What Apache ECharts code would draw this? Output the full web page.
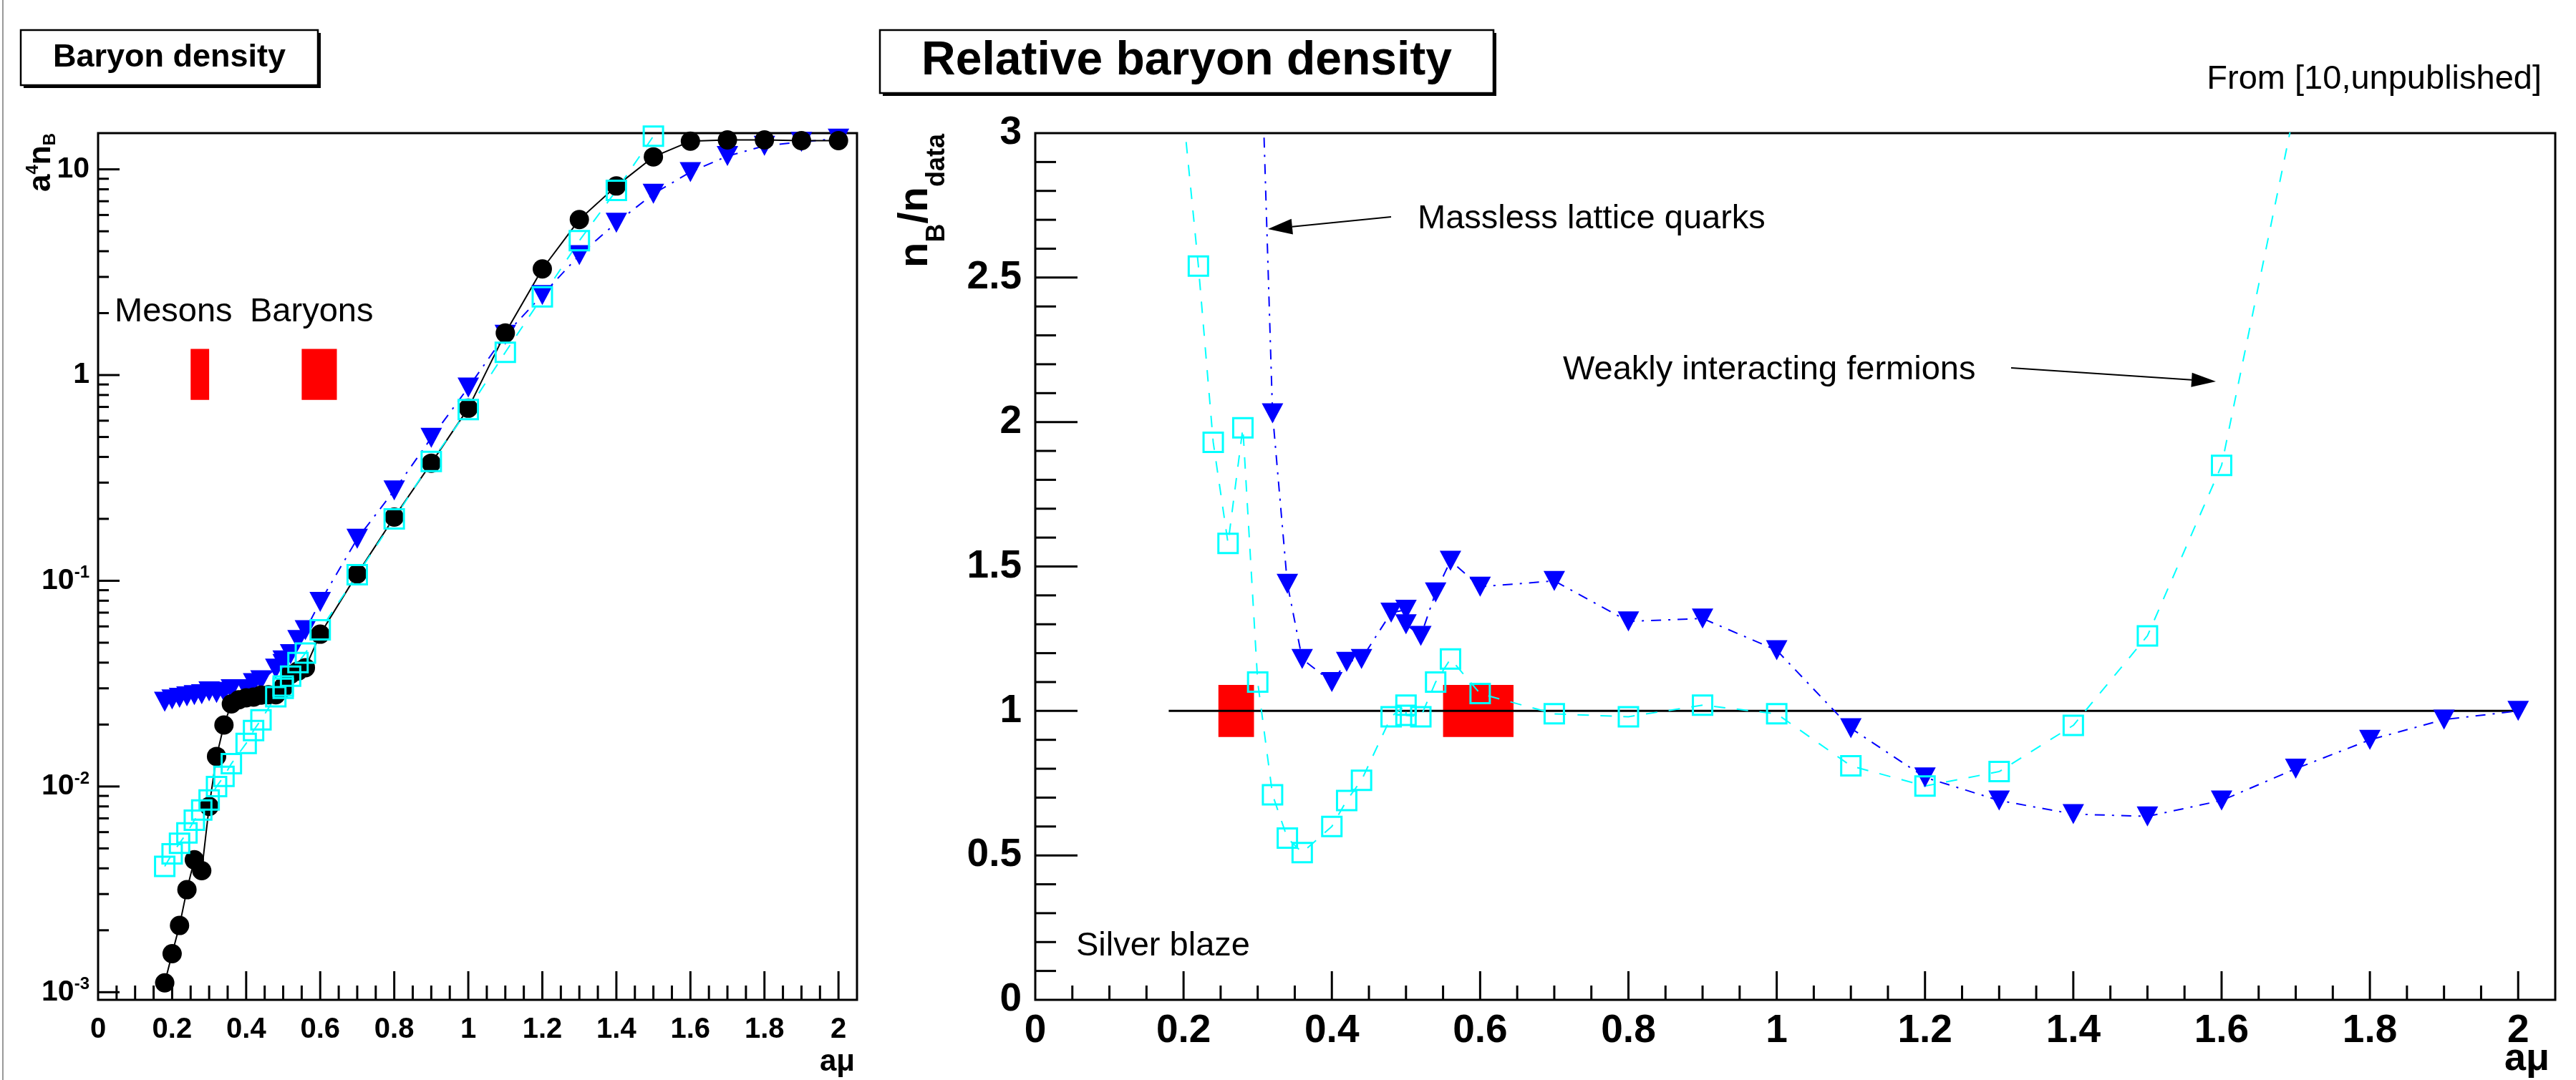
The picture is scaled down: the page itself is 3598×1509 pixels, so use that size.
<!DOCTYPE html>
<html><head><meta charset="utf-8">
<script src="https://cdn.jsdelivr.net/npm/echarts@6/dist/echarts.min.js"></script>
<style>html,body{margin:0;padding:0;background:#fff}#c{width:3598px;height:1509px}</style>
</head><body><div id="c"></div>
<script>
// ---------------- DATA ----------------
// Left panel: a^4 n_B (log scale)
const dataX  = [0.18,0.20,0.22,0.24,0.26,0.28,0.30,0.32,0.34,0.36,0.38,0.40,0.42,0.44,0.46,0.48,0.50,0.50,0.52,0.54,0.56,0.60,0.70,0.80,0.90,1.0,1.1,1.2,1.3,1.4,1.5,1.6,1.7,1.8,1.9,2.0];
const dataY  = [0.00111,0.00154,0.00211,0.00315,0.0044,0.0039,0.0080,0.0140,0.0199,0.0252,0.0264,0.0270,0.0272,0.0278,0.0279,0.0279,0.0301,0.0305,0.0351,0.0364,0.0378,0.0550,0.108,0.204,0.373,0.69,1.6,3.28,5.7,8.3,11.5,13.7,13.9,13.9,13.8,13.8];
const weakX  = [0.18,0.20,0.22,0.24,0.26,0.28,0.30,0.32,0.34,0.36,0.40,0.42,0.44,0.48,0.50,0.50,0.52,0.54,0.56,0.60,0.70,0.80,0.90,1.0,1.1,1.2,1.3,1.4,1.5,1.6];
const weakY  = [0.00409,0.00471,0.0053,0.00595,0.00686,0.00769,0.0086,0.0100,0.0112,0.0129,0.0162,0.0187,0.0211,0.0273,0.0308,0.0300,0.0344,0.0400,0.0445,0.0577,0.107,0.200,0.380,0.68,1.29,2.40,4.50,7.9,14.5,25.6];
const latX   = [0.18,0.20,0.22,0.24,0.26,0.28,0.30,0.32,0.34,0.36,0.40,0.42,0.44,0.48,0.50,0.50,0.52,0.54,0.56,0.60,0.70,0.80,0.90,1.0,1.1,1.2,1.3,1.4,1.5,1.6,1.7,1.8,1.9,2.0];
const latY   = [0.0258,0.0265,0.0270,0.0274,0.0278,0.0281,0.0290,0.0285,0.0288,0.0297,0.0297,0.0318,0.0328,0.0374,0.0410,0.0394,0.0440,0.0515,0.0575,0.0790,0.160,0.275,0.495,0.87,1.57,2.45,3.83,5.5,7.6,9.7,11.6,13.0,13.6,14.1];

// Right panel: n_B / n_data
const ratioWeakX = [0.18,0.20,0.22,0.24,0.26,0.28,0.30,0.32,0.34,0.36,0.40,0.42,0.44,0.48,0.50,0.50,0.52,0.54,0.56,0.60,0.70,0.80,0.90,1.0,1.1,1.2,1.3,1.4,1.5,1.6,1.7];
const ratioWeakY = [3.68,3.06,2.54,1.93,1.58,1.98,1.10,0.71,0.56,0.51,0.60,0.69,0.76,0.98,1.02,0.985,0.98,1.10,1.18,1.06,0.99,0.98,1.02,0.99,0.81,0.74,0.79,0.95,1.26,1.85,3.1];
const ratioLatX  = [0.28,0.30,0.32,0.34,0.36,0.40,0.42,0.44,0.48,0.50,0.50,0.52,0.54,0.56,0.60,0.70,0.80,0.90,1.0,1.1,1.2,1.3,1.4,1.5,1.6,1.7,1.8,1.9,2.0];
const ratioLatY  = [7.2,3.7,2.03,1.44,1.18,1.10,1.17,1.18,1.34,1.35,1.30,1.26,1.41,1.52,1.43,1.45,1.31,1.32,1.21,0.94,0.77,0.69,0.643,0.635,0.69,0.80,0.90,0.97,1.0];
const unityX = [0.18, 2.0];
const unityY = [1, 1];

// Red boxes [x0, x1, y0, y1] (mesons, baryons)
const boxesLeft  = [[0.25,0.30,0.758,1.34],[0.55,0.645,0.758,1.34]];
const boxesRight = [[0.247,0.295,0.91,1.09],[0.55,0.645,0.91,1.09]];

// Tick values
const leftXMajor  = [0.4,0.6,0.8,1.0,1.2,1.4,1.6,1.8,2.0];
const leftXMinor  = [0.05,0.1,0.15,0.2,0.25,0.3,0.35,0.45,0.5,0.55,0.65,0.7,0.75,0.85,0.9,0.95,1.05,1.1,1.15,1.25,1.3,1.35,1.45,1.5,1.55,1.65,1.7,1.75,1.85,1.9,1.95];
const rightXMajor = [0.2,0.4,0.6,0.8,1.0,1.2,1.4,1.6,1.8,2.0];
const rightXMinor = [0.05,0.1,0.15,0.25,0.3,0.35,0.45,0.5,0.55,0.65,0.7,0.75,0.85,0.9,0.95,1.05,1.1,1.15,1.25,1.3,1.35,1.45,1.5,1.55,1.65,1.7,1.75,1.85,1.9,1.95];
const logYMajor   = [0.001,0.01,0.1,1,10];
const logYMinor   = [0.002,0.003,0.004,0.005,0.006,0.007,0.008,0.009,0.02,0.03,0.04,0.05,0.06,0.07,0.08,0.09,0.2,0.3,0.4,0.5,0.6,0.7,0.8,0.9,2,3,4,5,6,7,8,9];
const linYMajor   = [0.5,1.0,1.5,2.0,2.5];
const linYMinor   = [0.1,0.2,0.3,0.4,0.6,0.7,0.8,0.9,1.1,1.2,1.3,1.4,1.6,1.7,1.8,1.9,2.1,2.2,2.3,2.4,2.6,2.7,2.8,2.9];

// ---------------- CHART ----------------
const FONT = '"Liberation Sans", Arial, Helvetica, sans-serif';
const pairs = (xs, ys) => xs.map((x, i) => [x, ys[i]]);

function tickData(xMaj, xMin, yMaj, yMin, lens) {
  return [].concat(
    xMaj.map(v => [v, 1, 0, lens[0]]),
    xMin.map(v => [v, 1, 0, lens[1]]),
    yMaj.map(v => [1, v, 1, lens[2]]),
    yMin.map(v => [1, v, 1, lens[3]])
  );
}
function tickRender(params, api) {
  const cs = params.coordSys;
  const p = api.coord([api.value(0), api.value(1)]);
  const len = api.value(3);
  if (api.value(2) === 0) {
    const yb = cs.y + cs.height;
    return {type: 'line', shape: {x1: p[0], y1: yb, x2: p[0], y2: yb - len}, style: {stroke: '#000', lineWidth: 3}};
  }
  return {type: 'line', shape: {x1: cs.x, y1: p[1], x2: cs.x + len, y2: p[1]}, style: {stroke: '#000', lineWidth: 3}};
}
function boxRender(params, api) {
  const p0 = api.coord([api.value(0), api.value(3)]);
  const p1 = api.coord([api.value(1), api.value(2)]);
  return {type: 'rect', shape: {x: p0[0], y: p0[1], width: p1[0] - p0[0], height: p1[1] - p0[1]}, style: {fill: '#ff0000'}};
}
const xFmt = v => {
  const k = v / 0.2;
  if (Math.abs(k - Math.round(k)) > 1e-6) return '';
  return String(Math.round(v * 10) / 10);
};
const logFmt = v => {
  const l = Math.log10(v), e = Math.round(l);
  if (Math.abs(l - e) > 1e-3) return '';
  if (e === 0) return '{b|1}';
  if (e === 1) return '{b|10}';
  return '{b|10}{s|' + e + '}';
};

function arrow(x1, y1, x2, y2, hl, hw) {
  const dx = x2 - x1, dy = y2 - y1, L = Math.hypot(dx, dy);
  const ux = dx / L, uy = dy / L, bx = x2 - ux * hl, by = y2 - uy * hl;
  return [
    {type: 'line', shape: {x1: x1, y1: y1, x2: bx, y2: by}, style: {stroke: '#000', lineWidth: 2}},
    {type: 'polygon', shape: {points: [[x2, y2], [bx - uy * hw / 2, by + ux * hw / 2], [bx + uy * hw / 2, by - ux * hw / 2]]}, style: {fill: '#000'}}
  ];
}
function txt(x, y, text, size, opts) {
  opts = opts || {};
  return {type: 'text', x: x, y: y, rotation: opts.rot || 0, z: 100,
    style: {text: text, font: (opts.bold ? 'bold ' : '') + size + 'px ' + FONT, fill: '#000',
      align: opts.align || 'left', textAlign: opts.align || 'left',
      verticalAlign: 'middle', textVerticalAlign: 'middle', rich: opts.rich}};
}
function titleBox(x, y, w, h, text, size) {
  return [
    {type: 'rect', shape: {x: x + 4, y: y + 4, width: w, height: h}, style: {fill: '#000'}, z: 90},
    {type: 'rect', shape: {x: x, y: y, width: w, height: h}, style: {fill: '#fff', stroke: '#000', lineWidth: 2.5}, z: 91},
    txt(x + w / 2, y + h / 2, text, size, {bold: true, align: 'center'})
  ];
}

const axisLbl = (size, margin, extra) => Object.assign({
  color: '#000', fontFamily: FONT, fontWeight: 'bold', fontSize: size, margin: margin
}, extra || {});
const noLines = {axisLine: {show: false}, axisTick: {show: false}, splitLine: {show: false}};

const option = {
  animation: false,
  backgroundColor: '#fff',
  grid: [
    {left: 137, top: 186, width: 1060, height: 1211, show: true, borderColor: '#000', borderWidth: 3, backgroundColor: 'transparent'},
    {left: 1446, top: 186, width: 2123, height: 1211, show: true, borderColor: '#000', borderWidth: 3, backgroundColor: 'transparent'}
  ],
  xAxis: [
    Object.assign({type: 'value', gridIndex: 0, min: 0, max: 2.05, interval: 0.2,
      axisLabel: axisLbl(40, 22, {formatter: xFmt})}, noLines),
    Object.assign({type: 'value', gridIndex: 1, min: 0, max: 2.05, interval: 0.2,
      axisLabel: axisLbl(55, 16, {formatter: xFmt})}, noLines)
  ],
  yAxis: [
    Object.assign({type: 'log', logBase: 10, gridIndex: 0, min: 0.000918, max: 15,
      axisLabel: axisLbl(41, 12, {formatter: logFmt, rich: {
        b: {fontFamily: FONT, fontWeight: 'bold', fontSize: 41, color: '#000', lineHeight: 46},
        s: {fontFamily: FONT, fontWeight: 'bold', fontSize: 24, color: '#000', lineHeight: 24, verticalAlign: 'top'}
      }})}, noLines),
    Object.assign({type: 'value', gridIndex: 1, min: 0, max: 3, interval: 0.5,
      axisLabel: axisLbl(55, 19, {formatter: v => String(Math.round(v * 10) / 10)})}, noLines)
  ],
  series: [
    // ---- left panel ----
    {type: 'custom', xAxisIndex: 0, yAxisIndex: 0, renderItem: boxRender, data: boxesLeft, encode: {x: [0, 1], y: [2, 3]}, silent: true},
    {type: 'line', xAxisIndex: 0, yAxisIndex: 0, data: pairs(latX, latY), symbol: 'triangle', symbolRotate: 180, symbolSize: [30, 28],
      itemStyle: {color: '#0000ff'}, lineStyle: {color: '#0000ff', width: 2, type: [14, 10, 3, 10]}, silent: true},
    {type: 'line', xAxisIndex: 0, yAxisIndex: 0, data: pairs(dataX, dataY), symbol: 'circle', symbolSize: 27,
      itemStyle: {color: '#000'}, lineStyle: {color: '#000', width: 2}, silent: true},
    {type: 'line', xAxisIndex: 0, yAxisIndex: 0, data: pairs(weakX, weakY), symbol: 'rect', symbolSize: 27,
      itemStyle: {color: 'rgba(0,0,0,0)', borderColor: '#00ffff', borderWidth: 3}, lineStyle: {color: '#00ffff', width: 2, type: [16, 16]}, silent: true},
    {type: 'custom', xAxisIndex: 0, yAxisIndex: 0, renderItem: tickRender, z: 5, silent: true,
      data: tickData(leftXMajor, leftXMinor, logYMajor, logYMinor, [40, 20, 30, 15]), encode: {x: 0, y: 1}},
    // ---- right panel ----
    {type: 'custom', xAxisIndex: 1, yAxisIndex: 1, renderItem: boxRender, data: boxesRight, encode: {x: [0, 1], y: [2, 3]}, silent: true},
    {type: 'line', xAxisIndex: 1, yAxisIndex: 1, data: pairs(unityX, unityY), symbol: 'none',
      lineStyle: {color: '#000', width: 3}, silent: true},
    {type: 'line', xAxisIndex: 1, yAxisIndex: 1, data: pairs(ratioLatX, ratioLatY), symbol: 'triangle', symbolRotate: 180, symbolSize: [30, 28],
      itemStyle: {color: '#0000ff'}, lineStyle: {color: '#0000ff', width: 2, type: [14, 10, 3, 10]}, silent: true},
    {type: 'line', xAxisIndex: 1, yAxisIndex: 1, data: pairs(ratioWeakX, ratioWeakY), symbol: 'rect', symbolSize: 27,
      itemStyle: {color: 'rgba(0,0,0,0)', borderColor: '#00ffff', borderWidth: 3}, lineStyle: {color: '#00ffff', width: 2, type: [16, 16]}, silent: true},
    {type: 'custom', xAxisIndex: 1, yAxisIndex: 1, renderItem: tickRender, z: 5, silent: true,
      data: tickData(rightXMajor, rightXMinor, linYMajor, linYMinor, [40, 20, 59, 29]), encode: {x: 0, y: 1}}
  ],
  graphic: [].concat(
    [{type: 'line', shape: {x1: 4, y1: 0, x2: 4, y2: 1509}, style: {stroke: '#777', lineWidth: 1.5}}],
    titleBox(29, 42, 415, 77, 'Baryon density', 45),
    titleBox(1229, 42, 857, 88, 'Relative baryon density', 66),
    [
      txt(3550, 111, 'From [10,unpublished]', 47, {align: 'right'}),
      txt(160, 436, 'Mesons', 47),
      txt(349, 436, 'Baryons', 47),
      txt(1980, 306, 'Massless lattice quarks', 47),
      txt(2183, 517, 'Weakly interacting fermions', 47),
      txt(1503, 1322, 'Silver blaze', 47),
      txt(1194, 1484, 'aμ', 42, {bold: true, align: 'right'}),
      txt(3561, 1480, 'aμ', 54, {bold: true, align: 'right'}),
      txt(58, 186, '{m|a}{p|4}{m|n}{q|B}', 44, {align: 'right', rot: Math.PI / 2, rich: {
        m: {fontFamily: FONT, fontWeight: 'bold', fontSize: 44, lineHeight: 48, color: '#000'},
        p: {fontFamily: FONT, fontWeight: 'bold', fontSize: 24, lineHeight: 24, verticalAlign: 'top', color: '#000'},
        q: {fontFamily: FONT, fontWeight: 'bold', fontSize: 24, lineHeight: 24, verticalAlign: 'bottom', color: '#000'}
      }}),
      txt(1279, 187, '{m|n}{q|B}{m|/n}{q|data}', 58, {align: 'right', rot: Math.PI / 2, rich: {
        m: {fontFamily: FONT, fontWeight: 'bold', fontSize: 58, lineHeight: 96, color: '#000'},
        q: {fontFamily: FONT, fontWeight: 'bold', fontSize: 36, lineHeight: 36, verticalAlign: 'bottom', color: '#000'}
      }})
    ],
    arrow(1943, 303, 1771, 320, 34, 22),
    arrow(2809, 514, 3095, 533, 34, 20)
  )
};

const chart = echarts.init(document.getElementById('c'), null, {renderer: 'canvas', width: 3598, height: 1509});
chart.setOption(option);
</script>
</body></html>
